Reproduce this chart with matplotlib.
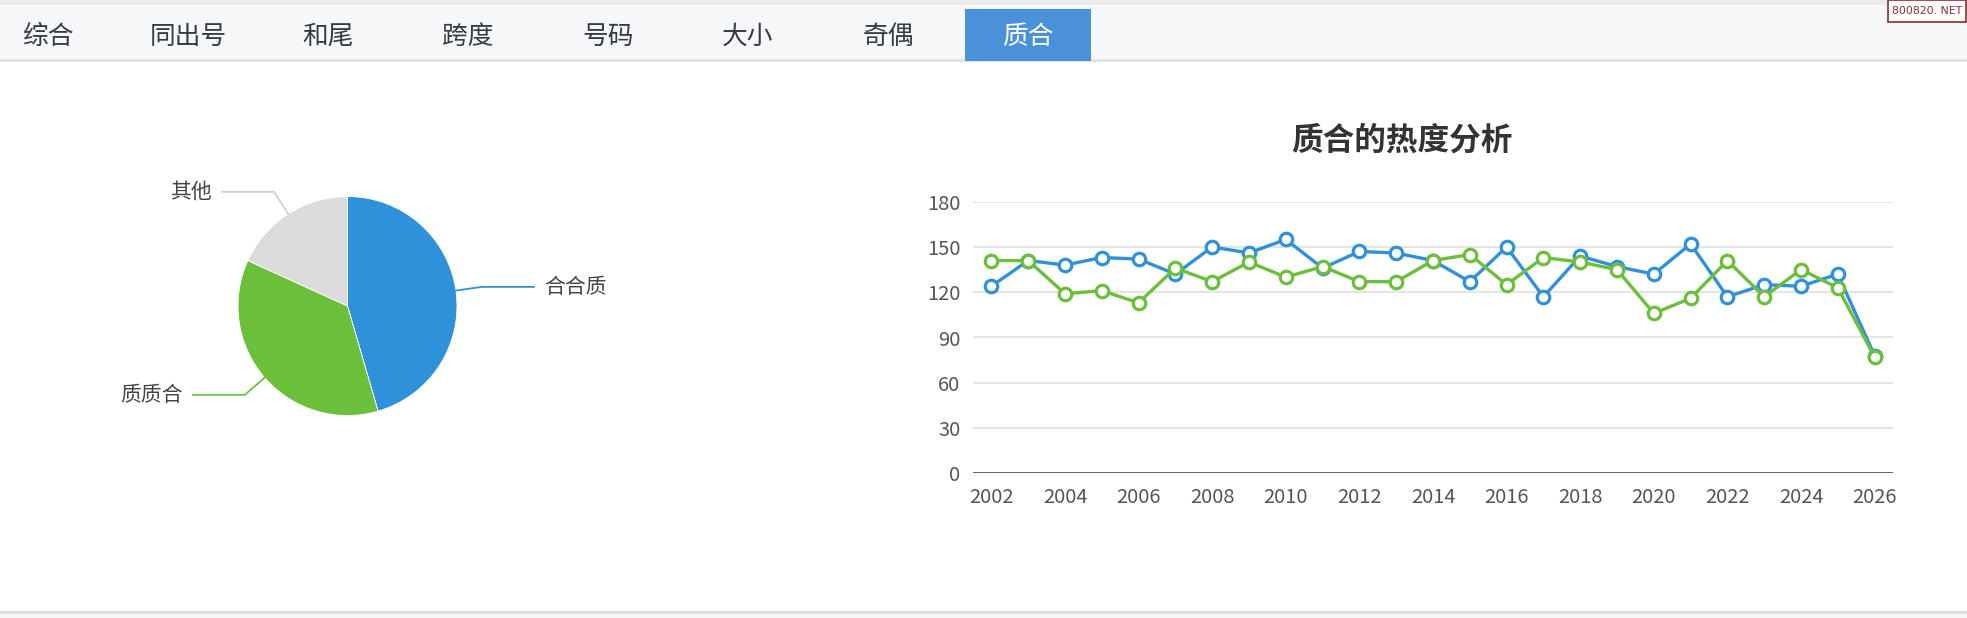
import matplotlib
matplotlib.use("Agg")
import matplotlib.pyplot as plt
from matplotlib.patches import Rectangle
import numpy as np

plt.rcParams['font.family'] = ['Noto Sans CJK SC', 'DejaVu Sans']

# ---------------- data ----------------
tabs = ["综合", "同出号", "和尾", "跨度", "号码", "大小", "奇偶", "质合"]
active_tab = "质合"

pie_labels = ["合合质", "质质合", "其他"]
pie_values = [45.5, 36.3, 18.2]
pie_colors = ["#2f91da", "#6cbf3b", "#dcdcdc"]

title = "质合的热度分析"
years = list(range(2002, 2027))
series_blue = [124, 141, 138, 143, 142, 132, 150, 146, 155, 136, 147, 146, 141,
               127, 150, 117, 144, 137, 132, 152, 117, 125, 124, 132, 78]
series_green = [141, 141, 119, 121, 113, 136, 127, 140, 130, 137, 127, 127, 141,
                145, 125, 143, 140, 135, 106, 116, 141, 117, 135, 123, 77]
y_ticks = [0, 30, 60, 90, 120, 150, 180]
x_ticks = list(range(2002, 2027, 2))

W, H = 1967, 618
fig = plt.figure(figsize=(W / 100, H / 100), dpi=100)
fig.patch.set_facecolor("white")


def fx(x):
    return x / W


def fy(y):
    return 1 - y / H


def frect(x0, y0, x1, y1, **kw):
    fig.patches.append(Rectangle((fx(x0), fy(y1)), (x1 - x0) / W, (y1 - y0) / H,
                                 transform=fig.transFigure, figure=fig, **kw))


# ---------------- tab bar ----------------
frect(0, 0, W, 5, facecolor="#ebebeb", edgecolor="none")
frect(0, 5, W, 59, facecolor="#f6f7f8", edgecolor="none")
frect(0, 59, W, 62, facecolor="#e3e3e3", edgecolor="none")
tab_x0, tab_step = 48, 140
for i, t in enumerate(tabs):
    cx = tab_x0 + i * tab_step
    if t == active_tab:
        frect(cx - 63, 9, cx + 63, 61, facecolor="#4b91d9", edgecolor="none")
        col = "white"
    else:
        col = "#353b45"
    fig.text(fx(cx), fy(37), t, fontsize=18.5, color=col, ha="center", va="center")

# watermark
frect(1888, 0, 1966, 22, facecolor="white", edgecolor="#8b2e2e", linewidth=1.2)
fig.text(fx(1927), fy(11), "800820. NET", fontsize=7.8, color="#8b2e2e",
         ha="center", va="center", family=["DejaVu Sans"])

# bottom border
frect(0, 611, W, 614, facecolor="#dedede", edgecolor="none")
frect(0, 614, W, H, facecolor="#f7f7f7", edgecolor="none")

# ---------------- pie ----------------
pcx, pcy, rx, ry = 347.5, 306, 109.5, 109.5
axp = fig.add_axes([fx(pcx - rx), fy(pcy + ry), 2 * rx / W, 2 * ry / H])
wedges, _ = axp.pie(pie_values, colors=pie_colors, startangle=90, counterclock=False,
                    radius=1.0, wedgeprops=dict(linewidth=0.6, edgecolor="white"))
axp.set_aspect("auto")
axp.set_xlim(-1, 1)
axp.set_ylim(-1, 1)
axp.axis("off")

line_cols = ["#2f91da", "#6cbf3b", "#d0d0d0"]
for w, lab, lc in zip(wedges, pie_labels, line_cols):
    ang = np.deg2rad((w.theta1 + w.theta2) / 2)
    c, s = np.cos(ang), np.sin(ang)
    x0, y0 = c, s
    x1, y1 = 1.24 * c, 1.24 * s
    sign = 1 if c >= 0 else -1
    x2 = x1 + sign * 0.475
    axp.plot([x0, x1, x2], [y0, y1, y1], color=lc, lw=1.3, clip_on=False)
    axp.text(x2 + sign * 0.09, y1, lab, fontsize=15, color="#444444",
             ha="left" if sign > 0 else "right", va="center", clip_on=False)

# ---------------- line chart ----------------
ax_left, ax_right = 973, 1893
ax_top, ax_bot = 201.7, 473.3
ax = fig.add_axes([fx(ax_left), fy(ax_bot), (ax_right - ax_left) / W, (ax_bot - ax_top) / H])
ax.set_xlim(years[0] - 0.5, years[-1] + 0.5)
ax.set_ylim(0, 180)
for v in y_ticks[1:]:
    ax.axhline(v, color="#e4e4e4", lw=1.4, zorder=0)
ax.axhline(0, color="#555555", lw=2, zorder=1)
mk = dict(marker="o", markersize=9, markerfacecolor="white", markeredgewidth=2.3)
ax.plot(years, series_blue, color="#2f91da", lw=2.4, markeredgecolor="#2f91da", zorder=3, **mk)
ax.plot(years, series_green, color="#6cbf3b", lw=2.4, markeredgecolor="#6cbf3b", zorder=4, **mk)
for sp in ax.spines.values():
    sp.set_visible(False)
ax.set_yticks(y_ticks)
ax.set_xticks(x_ticks)
ax.set_xticklabels([str(x) for x in x_ticks])
ax.tick_params(axis="both", length=0, labelsize=14.5, labelcolor="#555555")
ax.tick_params(axis="y", pad=9)
ax.tick_params(axis="x", pad=10)
ax.set_facecolor("none")

fig.text(fx(1402), fy(141), title, fontsize=22.8, fontweight="bold", color="#333333",
         ha="center", va="center")

fig.savefig("out.png", dpi=100)
